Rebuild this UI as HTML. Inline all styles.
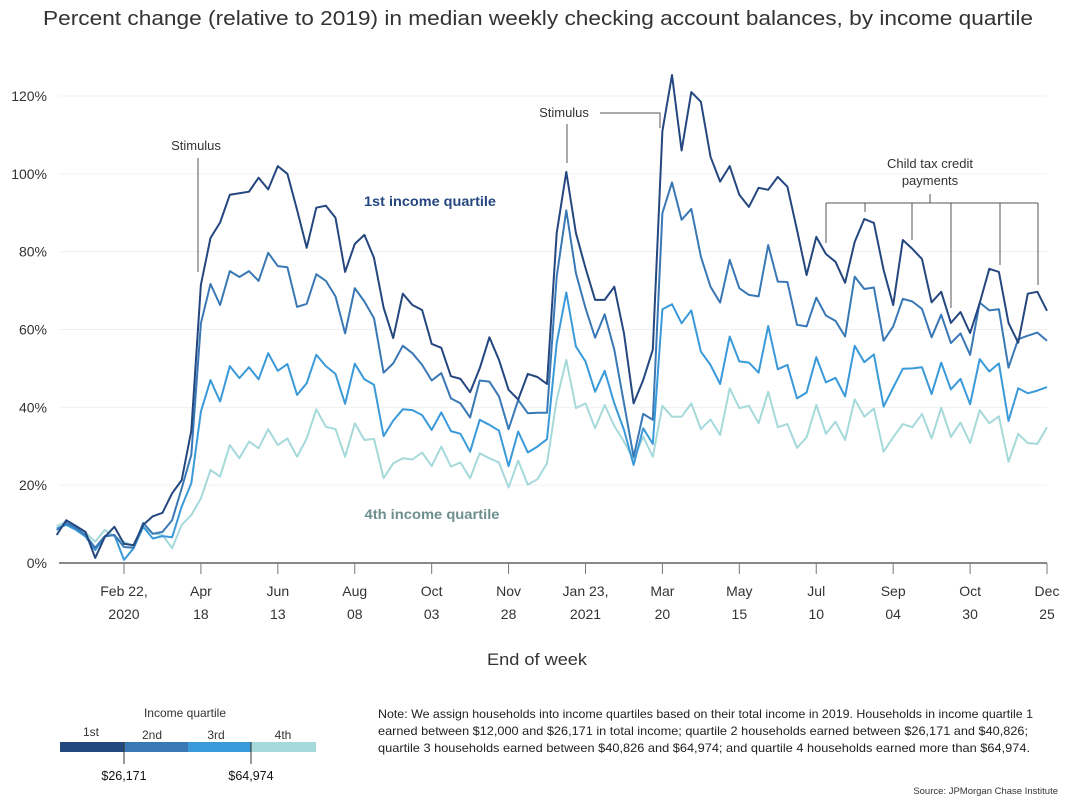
<!DOCTYPE html>
<html><head><meta charset="utf-8"><style>
html,body{margin:0;padding:0;background:#fff;}
svg text{font-family:"Liberation Sans",sans-serif;}
</style></head><body>
<svg id="chart" width="1070" height="801" viewBox="0 0 1070 801">
<text x="538" y="25" text-anchor="middle" font-size="20" fill="#333" textLength="990" lengthAdjust="spacingAndGlyphs">Percent change (relative to 2019) in median weekly checking account balances, by income quartile</text>
<g id="grid"></g>
<g id="yaxis"></g>
<g id="xaxis"></g>
<g id="series"></g>
<g>
<text x="196" y="150" text-anchor="middle" font-size="13" fill="#333">Stimulus</text>
<line x1="198" y1="158" x2="198" y2="272" stroke="#555" stroke-width="1"/>
</g>
<g>
<text x="564" y="117" text-anchor="middle" font-size="13" fill="#333">Stimulus</text>
<line x1="567" y1="124" x2="567" y2="163" stroke="#555" stroke-width="1"/>
<polyline points="600,113 660,113 660,128" fill="none" stroke="#555" stroke-width="1"/>
</g>
<g>
<text x="930" y="168" text-anchor="middle" font-size="13" fill="#333">Child tax credit</text>
<text x="930" y="185" text-anchor="middle" font-size="13" fill="#333">payments</text>
<line x1="930" y1="194" x2="930" y2="203" stroke="#555"/>
<line x1="826" y1="203" x2="1038" y2="203" stroke="#555"/>
<line x1="826" y1="203" x2="826" y2="243" stroke="#555"/>
<line x1="865" y1="203" x2="865" y2="212" stroke="#555"/>
<line x1="912" y1="203" x2="912" y2="240" stroke="#555"/>
<line x1="951" y1="203" x2="951" y2="308" stroke="#555"/>
<line x1="1000" y1="203" x2="1000" y2="265" stroke="#555"/>
<line x1="1038" y1="203" x2="1038" y2="285" stroke="#555"/>
</g>
<text x="430" y="206" text-anchor="middle" font-size="13.5" font-weight="bold" fill="#24477f" textLength="132" lengthAdjust="spacingAndGlyphs">1st income quartile</text>
<text x="432" y="519" text-anchor="middle" font-size="13.5" font-weight="bold" fill="#6e8e8e" textLength="135" lengthAdjust="spacingAndGlyphs">4th income quartile</text>
<text x="537" y="665" text-anchor="middle" font-size="17" fill="#333" textLength="100" lengthAdjust="spacingAndGlyphs">End of week</text>
<g>
<text x="185" y="717" text-anchor="middle" font-size="12" fill="#333">Income quartile</text>
<text x="91" y="736" text-anchor="middle" font-size="12" fill="#333">1st</text>
<text x="152" y="739" text-anchor="middle" font-size="12" fill="#333">2nd</text>
<text x="216" y="739" text-anchor="middle" font-size="12" fill="#333">3rd</text>
<text x="283" y="739" text-anchor="middle" font-size="12" fill="#333">4th</text>
<rect x="60" y="742" width="64" height="10" fill="#24477f"/>
<rect x="124" y="742" width="64" height="10" fill="#3a78b5"/>
<rect x="188" y="742" width="63" height="10" fill="#3a9ad9"/>
<rect x="251" y="742" width="65" height="10" fill="#a6d9da"/>
<line x1="124" y1="742" x2="124" y2="764" stroke="#333"/>
<line x1="251" y1="742" x2="251" y2="764" stroke="#333"/>
<text x="124" y="780" text-anchor="middle" font-size="12.5" fill="#111">$26,171</text>
<text x="251" y="780" text-anchor="middle" font-size="12.5" fill="#111">$64,974</text>
</g>
<g font-size="11.6" fill="#222">
<text x="378" y="718" textLength="655" lengthAdjust="spacingAndGlyphs">Note: We assign households into income quartiles based on their total income in 2019. Households in income quartile 1</text>
<text x="378" y="735" textLength="650" lengthAdjust="spacingAndGlyphs">earned between $12,000 and $26,171 in total income; quartile 2 households earned between $26,171 and $40,826;</text>
<text x="378" y="752" textLength="652" lengthAdjust="spacingAndGlyphs">quartile 3 households earned between $40,826 and $64,974; and quartile 4 households earned more than $64,974.</text>
</g>
<text x="1058" y="794" text-anchor="end" font-size="9.5" fill="#333">Source: JPMorgan Chase Institute</text>
</svg>
<script>
const yTicks = [0, 20, 40, 60, 80, 100, 120];
const xTickIndex = [7, 15, 23, 31, 39, 47, 55, 63, 71, 79, 87, 95, 103];
const xTickLine1 = ["Feb 22,", "Apr", "Jun", "Aug", "Oct", "Nov", "Jan 23,", "Mar", "May", "Jul", "Sep", "Oct", "Dec"];
const xTickLine2 = ["2020", "18", "13", "08", "03", "28", "2021", "20", "15", "10", "04", "30", "25"];
const q1 = [7.2,11,9.5,8,1.3,6.7,9.3,4.9,4.6,9.8,12,12.9,17.9,21.3,34,71.5,83.5,87.5,94.6,95,95.4,99,96,102,100,90.7,81,
91.3,91.8,88.7,74.8,82,84.3,78.4,65.6,57.8,69.2,66.3,65,56.3,55.3,48,47.3,43.9,50,58,52.2,44.5,42,48.6,47.8,46,
84.8,
100.5,84.8,75.8,67.6,67.6,71,59,41,47,54.8,111,125.4,106,121,118.5,104.4,98,102,94.6,91.5,96.4,95.9,99.2,96.7,85.6,74,
83.8,79.4,77.4,72,82.5,88.4,87.4,75.3,66.3,83,80.7,78.1,67,69.7,61.7,64.5,59.1,66.8,75.6,74.8,61.7,56.6,69.2,69.7,64.8];
const q2 = [8.5,10.3,9,7.2,3.9,6.9,7.2,4.1,3.9,10.3,7.5,8,11,19.2,27.8,61.6,71.7,66.3,75,73.5,75,72.5,79.7,76.3,76,65.8,66.6,
74.2,72.5,68.5,59,70.6,67.2,62.9,48.9,51.3,55.8,53.9,50.9,46.9,48.8,42.3,41,37.4,46.9,46.6,42.8,34.4,41.9,38.5,38.6,38.6,
73.6,
90.6,74.5,65.5,57.9,63.9,54.8,41,27.3,38.3,36.8,89.9,97.8,88.2,91,78.7,71,66.9,77.9,70.6,68.9,68.5,81.7,72.3,72.2,61.2,60.8,
68.2,63.6,62.2,58.2,73.6,70.4,70.8,57.1,60.8,67.9,67.2,65.3,58,63.8,56.5,59,53.5,66.9,64.9,65.2,50.2,57.5,58.4,59.2,57.1];
const q3 = [8.9,9.8,8.5,6.8,3.3,6.8,7.2,0.8,3.8,9.3,6.3,6.9,6.6,14.5,20.5,38.9,47,41.5,50.6,47.5,50.3,47.2,53.9,49.4,51.1,43.2,46.2,
53.5,50.6,48.6,40.9,51.2,47.2,45.8,32.6,36.6,39.5,39.3,38,34.2,38.7,33.9,33.2,28.6,36.8,35.5,34,24.9,33.8,28.4,29.9,31.8,
56.5,
69.5,55.6,51.8,44,49.4,41,34.2,25.2,34.6,30.6,65.2,66.5,61.6,64.9,54.3,50.9,46,58.2,51.8,51.5,48.9,60.9,49.8,50.9,42.3,
43.8,52.9,46.4,47.6,42.8,55.8,51.6,53.6,40.2,45.1,49.9,50,50.3,43.4,51.5,44.6,47.3,40.8,52.4,49.2,51.3,36.5,44.9,43.6,44.3,45.2];
const q4 = [9.5,10.6,9.2,7.8,5.5,8.5,6.8,5.5,4.2,9.3,7.6,7.2,3.8,9.8,12.3,16.6,23.9,22.2,30.3,26.9,31.2,29.5,34.4,30.3,32,27.3,32,
39.5,35,34.4,27.3,35.9,31.6,31.9,21.8,25.6,26.9,26.6,28.4,24.9,29.9,24.8,25.8,21.8,28.2,26.9,25.8,19.4,26.3,20.1,21.5,25.6,
41.9,
52.2,39.8,41,34.6,40.6,35.2,31.2,26.5,32.5,27.3,40.4,37.6,37.6,41,34.4,36.9,32.9,44.9,39.8,40.4,35.9,44,34.9,35.7,29.6,
32.3,40.6,33.2,36.3,31.6,42.1,37.6,39.7,28.6,32.3,35.7,34.9,38.3,32,39.9,32.4,36.1,30.8,39.3,35.9,37.7,26,33.2,30.8,30.6,34.9];

const NS = "http://www.w3.org/2000/svg";
const X0 = 56.7, X1 = 1047, Y0 = 563, Y120 = 96;
const nPts = q1.length;
function xs(i){ return X0 + (X1 - X0) * i / (nPts - 1); }
function ys(v){ return Y0 - (Y0 - Y120) * v / 120; }
function mk(tag, attrs, parent){ const e = document.createElementNS(NS, tag); for (const k in attrs) e.setAttribute(k, attrs[k]); parent.appendChild(e); return e; }

const grid = document.getElementById('grid');
const yaxis = document.getElementById('yaxis');
yTicks.forEach(v => {
  if (v > 0) {
    const g = mk('line', {x1: 59, x2: 1047, y1: ys(v), y2: ys(v), stroke: '#f0f0f0', 'stroke-width': 1}, grid);
    
    
  }
  const t = mk('text', {x: 47, y: ys(v) + 5, 'text-anchor': 'end', 'font-size': 14, fill: '#333'}, yaxis);
  t.textContent = v + '%';
  
  
});

const xaxis = document.getElementById('xaxis');
const axl = mk('line', {x1: 59, x2: 1047, y1: Y0, y2: Y0, stroke: '#888', 'stroke-width': 2}, xaxis);


xTickIndex.forEach((idx, k) => {
  const x = xs(idx);
  const tk = mk('line', {x1: x, x2: x, y1: Y0, y2: Y0 + 11, stroke: '#777', 'stroke-width': 1}, xaxis);
  
  
  const t1 = mk('text', {x: x, y: 596, 'text-anchor': 'middle', 'font-size': 14, fill: '#333'}, xaxis);
  t1.textContent = xTickLine1[k];
  
  
  const t2 = mk('text', {x: x, y: 619, 'text-anchor': 'middle', 'font-size': 14, fill: '#333'}, xaxis);
  t2.textContent = xTickLine2[k];
  
  
});

const series = document.getElementById('series');
const defs = [[q4, '#a6d9da', 'line-q4'], [q3, '#3a9ad9', 'line-q3'], [q2, '#3a78b5', 'line-q2'], [q1, '#24477f', 'line-q1']];
defs.forEach(d => {
  const pts = d[0].map((v, i) => xs(i).toFixed(1) + ',' + ys(v).toFixed(1)).join(' ');
  const p = mk('polyline', {points: pts, fill: 'none', stroke: d[1], 'stroke-width': 2, 'stroke-linejoin': 'round'}, series);
  
  
});
</script>
</body></html>
